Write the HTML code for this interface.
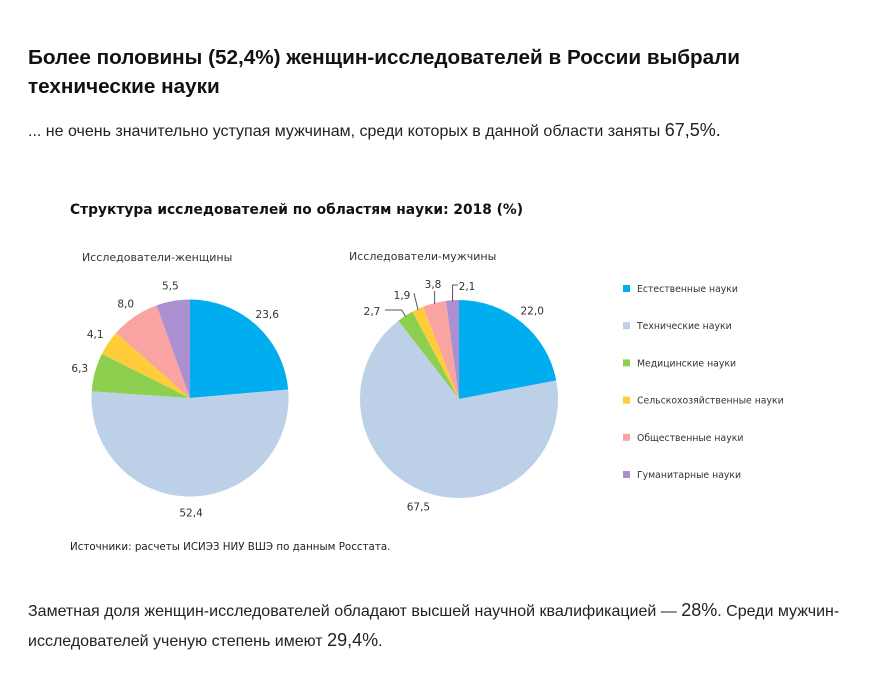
<!DOCTYPE html>
<html><head><meta charset="utf-8"><style>
body{margin:0;width:885px;height:690px;background:#fff;font-family:"Liberation Sans","DejaVu Sans",sans-serif;position:relative;overflow:hidden}
.a{position:absolute;white-space:nowrap}
h1{position:absolute;left:28px;top:43px;margin:0;font-size:20.7px;line-height:29px;font-weight:bold;color:#111}
</style></head><body>
<h1>Более половины (52,4%) женщин-исследователей в России выбрали<br>технические науки</h1>
<div class="a" style="left:28px;top:120px;font-size:16px;color:#222">... не очень значительно уступая мужчинам, среди которых в данной области заняты <span style="font-size:18px">67,5%.</span></div>
<svg class="a" style="left:0;top:0" width="885" height="690" id="chart">
<text x="70" y="214" font-size="13.8" font-weight="bold" fill="#111" font-family="DejaVu Sans,sans-serif">Структура исследователей по областям науки: 2018 (%)</text>
<text x="82" y="261" font-size="11" fill="#333" font-family="DejaVu Sans,sans-serif">Исследователи-женщины</text>
<text x="349" y="260" font-size="11" fill="#333" font-family="DejaVu Sans,sans-serif">Исследователи-мужчины</text>
<text x="70" y="550" font-size="10.3" fill="#222" font-family="DejaVu Sans,sans-serif">Источники: расчеты ИСИЭЗ НИУ ВШЭ по данным Росстата.</text>
</svg>
<div class="a" style="left:28px;top:596px;font-size:16px;line-height:29px;color:#222">Заметная доля женщин-исследователей обладают высшей научной квалификацией — <span style="font-size:18px">28%</span>. Среди мужчин-<br>исследователей ученую степень имеют <span style="font-size:18px">29,4%</span>.</div>
<script>
const categories=["Естественные науки","Технические науки","Медицинские науки","Сельскохозяйственные науки","Общественные науки","Гуманитарные науки"];
const colors=["#00aeef","#bcd0e8","#8dd04f","#ffcc3a","#f9a3a3","#ab8fd1"];
const womenValues=[23.6,52.4,6.3,4.1,8.0,5.5];
const menValues=[22.0,67.5,2.7,1.9,3.8,2.1];
const womenLabels=["23,6","52,4","6,3","4,1","8,0","5,5"];
const menLabels=["22,0","67,5","2,7","1,9","3,8","2,1"];
// layout: callout label offsets for the small men's slices (relative to pie center)
const calloutOffsets={2:[-87,-88],3:[-57,-104],4:[-26,-115],5:[8,-113]};
const svg=document.getElementById('chart');
const NS='http://www.w3.org/2000/svg';
function mk(t,a){const e=document.createElementNS(NS,t);for(const k in a)e.setAttribute(k,a[k]);svg.appendChild(e);return e;}
function pt(cx,cy,r,f){const a=f*2*Math.PI;return [cx+r*Math.sin(a),cy-r*Math.cos(a)];}
function pie(vals,labels,cx,cy,r,name,callouts){
  const tot=vals.reduce((s,v)=>s+v,0);let acc=0;
  vals.forEach((v,i)=>{
    const f0=acc/tot,f1=(acc+v)/tot;acc+=v;
    const p0=pt(cx,cy,r,f0),p1=pt(cx,cy,r,f1);const large=(f1-f0)>0.5?1:0;
    const p=mk('path',{d:`M${cx},${cy}L${p0[0]},${p0[1]}A${r},${r} 0 ${large} 1 ${p1[0]},${p1[1]}Z`,fill:colors[i]});
    
    
    const fm=(f0+f1)/2;
    let lp;
    if(callouts&&callouts[i]&&v/tot<0.05){
      const e=pt(cx,cy,r*0.99,fm);
      lp=[cx+callouts[i][0],cy+callouts[i][1]];
      let pts;
      if(Math.abs(lp[0]-e[0])<8){
        pts=`${e[0]},${e[1]} ${e[0]},${lp[1]+7}`;
      } else if(lp[0]<e[0]){
        const lx=lp[0]+13, ly=lp[1]-1;
        pts=`${e[0]},${e[1]} ${e[0]-4},${ly} ${lx},${ly}`;
      } else {
        const lx=lp[0]-9, ly=lp[1]-1;
        pts=`${e[0]},${e[1]} ${e[0]},${ly} ${lx},${ly}`;
      }
      const l=mk('polyline',{points:pts,fill:'none',stroke:'#555','stroke-width':1});
      
      
    } else lp=pt(cx,cy,r*1.16,fm);
    const t=mk('text',{x:lp[0],y:lp[1]+4,'text-anchor':'middle','font-size':10.5,fill:'#333','font-family':'DejaVu Sans,sans-serif'});
    t.textContent=labels[i];
    
    
  });
}
pie(womenValues,womenLabels,190,398,98.5,'women-pie',null);
pie(menValues,menLabels,459,399,99,'men-pie',calloutOffsets);
categories.forEach((c,i)=>{
  const y=289+i*37.2;
  const r=mk('rect',{x:623,y:y-4,width:7,height:7,fill:colors[i]});
  
  
  const t=mk('text',{x:637,y:y+3,'font-size':9.3,fill:'#333','font-family':'DejaVu Sans,sans-serif'});
  t.textContent=c;
  
  
});
</script>
</body></html>
